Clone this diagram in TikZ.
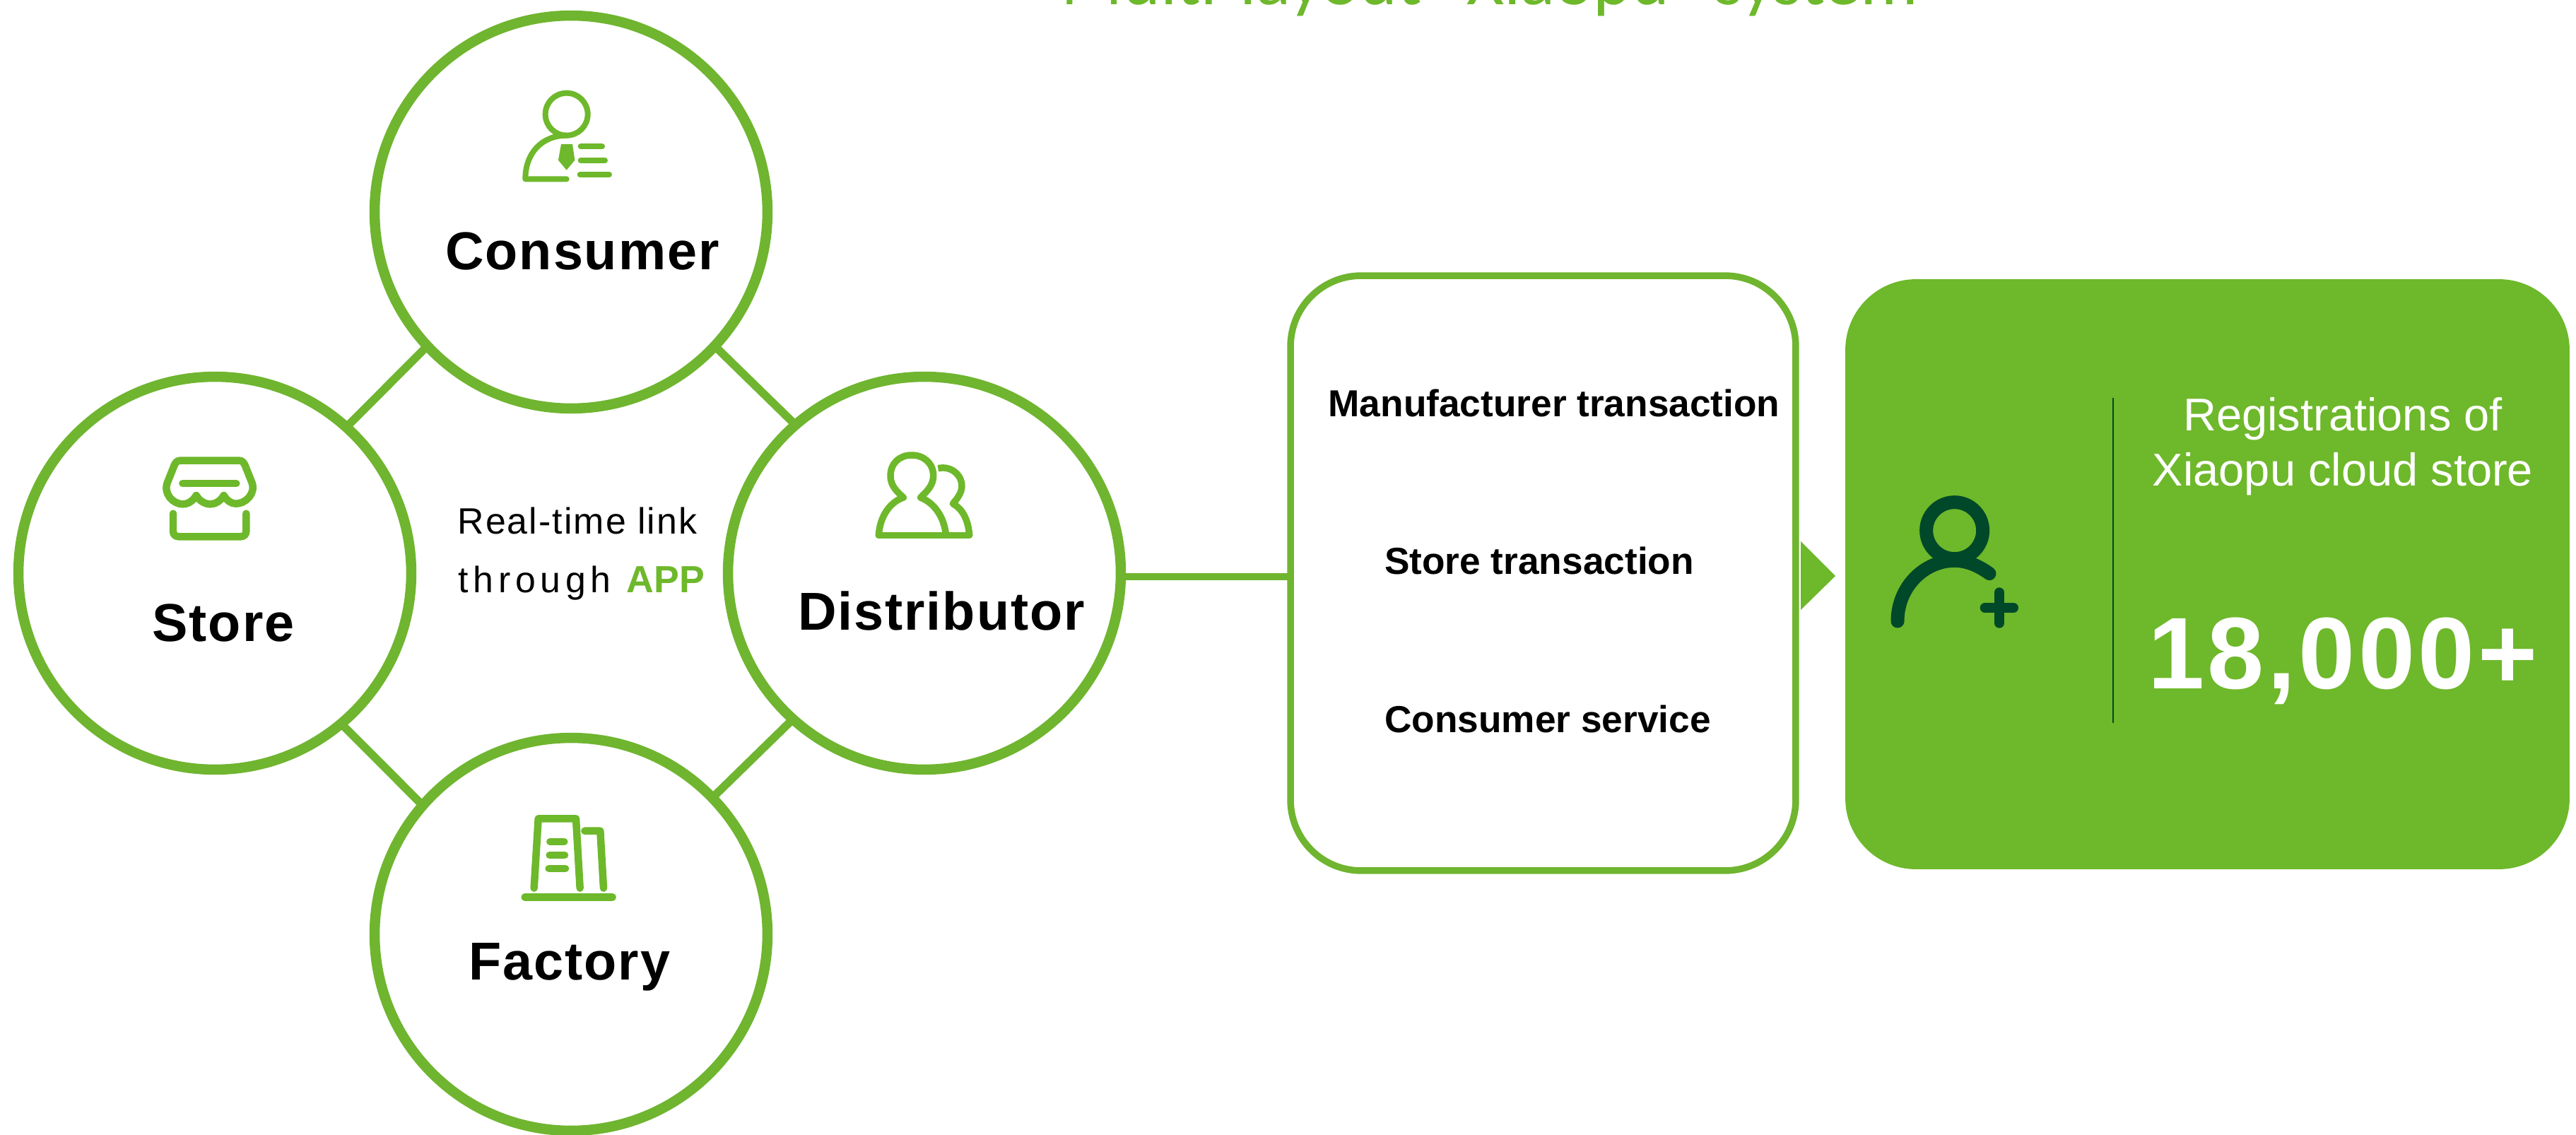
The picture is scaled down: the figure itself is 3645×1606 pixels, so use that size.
\documentclass[tikz,border=0pt]{standalone}
\usepackage{fontspec}
\setmainfont{Liberation Sans}
\newfontfamily\titlefont{Carlito}
\newfontfamily\spacedfont[LetterSpace=4]{Liberation Sans}
\newfontfamily\rolefont[LetterSpace=2.6]{Liberation Sans}
\newfontfamily\widefont[LetterSpace=13]{Liberation Sans}
\newfontfamily\countfont[LetterSpace=3]{Liberation Sans}
\definecolor{brand}{HTML}{6EB82B}
\definecolor{ringgreen}{HTML}{6FB52F}
\definecolor{deepgreen}{HTML}{00482A}
\tikzset{
  ring/.style={circle,draw=ringgreen,fill=white,line width=0.29cm,minimum size=11.12cm,inner sep=0pt,outer sep=0pt},
  link/.style={draw=ringgreen,line width=0.23cm},
  rolelabel/.style={font=\fontsize{43}{50}\selectfont\rolefont\bfseries,text=black,inner sep=0pt},
  tasklabel/.style={font=\fontsize{30.3}{36}\selectfont\bfseries,text=black,inner sep=0pt},
  whitelabel/.style={font=\fontsize{37}{44}\selectfont,text=white,inner sep=0pt},
  iconscope/.style={x=0.00667cm,y=-0.00667cm,line cap=round,line join=round,draw=brand},
}
\begin{document}
\begin{tikzpicture}[x=0.02cm,y=-0.02cm]
\useasboundingbox (0,0) rectangle (3645,1606);
\fill[white] (0,0) rectangle (3645,1606);
% title
\node[anchor=base,inner sep=0pt,text=brand,font=\fontsize{58.2}{62}\selectfont\titlefont] (title) at (2108,6) {Multi-layout "Xiaopu" system};
% rings
\node[ring] (consumer) at (808,300) {};
\node[ring] (store) at (304,811) {};
\node[ring] (distributor) at (1308,811) {};
\node[ring] (factory) at (808,1322) {};
\draw[link] (consumer.223) -- (store.48);
\draw[link] (consumer.317) -- (distributor.131);
\draw[link] (factory.139) -- (store.310);
\draw[link] (factory.44) -- (distributor.228);
% labels
\node[rolelabel] (consumerlabel) at (824,355) {Consumer};
\node[rolelabel] (storelabel) at (316,881) {Store};
\node[rolelabel] (distlabel) at (1332,864) {Distributor};
\node[rolelabel] (factorylabel) at (806,1368) {Factory};
\node[inner sep=0pt,font=\fontsize{29.5}{36}\selectfont\spacedfont,text=black] (linkone) at (817,737) {Real-time link};
\node[anchor=base west,inner sep=0pt,font=\fontsize{29.5}{36}\selectfont,text=black] (linktwo) at (648,838) {{\widefont through} \hspace{0.16cm}{\fontsize{30.5}{36}\selectfont\bfseries\textcolor{brand}{APP}}};
% process box
\node[draw=ringgreen,fill=white,line width=0.19cm,rounded corners=2cm,minimum width=14.3cm,minimum height=16.84cm,inner sep=0pt,outer sep=0pt] (process) at (2183.5,811) {};
\draw[draw=ringgreen,line width=0.19cm] ([yshift=-0.1cm]distributor.east) -- ([yshift=-0.1cm]process.west);
\node[tasklabel] (taskone) at (2199,570) {Manufacturer transaction};
\node[tasklabel] (tasktwo) at (2178,793) {Store transaction};
\node[tasklabel] (taskthree) at (2190,1017) {Consumer service};
% arrow
\fill[brand] (2548,766) -- (2597,815) -- (2548,863) -- cycle;
% green card
\node[fill=brand,rounded corners=2cm,minimum width=20.5cm,minimum height=16.7cm,inner sep=0pt,outer sep=0pt] (card) at (3123.5,812.5) {};
\draw[draw=deepgreen,line width=0.05cm] (2990,563) -- (2990,1023);
\node[whitelabel] (regone) at (3315,593) {Registrations of};
\node[whitelabel] (regtwo) at (3315,671) {Xiaopu cloud store};
\node[anchor=base,inner sep=0pt,text=white,font=\fontsize{82}{90}\selectfont\countfont\bfseries] (count) at (3315,974) {18,000+};
% consumer icon
\begin{scope}[shift={(700,100)},iconscope,line width=0.16cm]
\draw (305,185) circle (90);
\draw (305,275) .. controls (200,275) and (130,350) .. (130,460) -- (305,460);
\fill[brand] (282,312) -- (330,312) -- (340,380) -- (305,422) -- (270,380) -- cycle;
\draw (365,322) -- (456,322);
\draw (365,381) -- (468,381);
\draw (362,441) -- (486,441);
\end{scope}
% store icon
\begin{scope}[shift={(200,620)},iconscope,line width=0.21cm]
\draw (165,95) -- (415,95) .. controls (430,95) and (435,105) .. (440,115) -- (468,185)
 .. controls (490,235) and (440,280) .. (400,278) .. controls (380,278) and (360,262) .. (350,243)
 .. controls (335,270) and (310,280) .. (292,280) .. controls (270,280) and (245,265) .. (233,243)
 .. controls (220,265) and (200,280) .. (175,280) .. controls (135,280) and (90,235) .. (112,185)
 -- (140,115) .. controls (145,105) and (150,95) .. (165,95) -- cycle;
\draw (175,192) -- (403,192);
\draw (135,320) -- (135,395) .. controls (135,410) and (145,418) .. (160,418) -- (420,418) .. controls (435,418) and (445,410) .. (445,395) -- (445,320);
\end{scope}
% distributor icon
\begin{scope}[shift={(1210,620)},iconscope,line width=0.19cm]
\draw (100,412) -- (485,412);
\draw (100,412) .. controls (105,330) and (150,270) .. (205,252)
 .. controls (175,225) and (150,200) .. (150,160) .. controls (150,105) and (190,72) .. (240,72)
 .. controls (290,72) and (332,105) .. (332,160) .. controls (332,200) and (305,225) .. (278,252)
 .. controls (335,275) and (375,330) .. (385,405);
\draw[line cap=butt] (352,128) .. controls (410,115) and (455,160) .. (453,205) .. controls (452,235) and (430,260) .. (415,278) .. controls (455,300) and (480,345) .. (485,412);
\end{scope}
% factory icon
\begin{scope}[shift={(710,1130)},iconscope,line width=0.21cm]
\draw (137,380) -- (155,85) -- (315,85) -- (332,380);
\draw (352,137) -- (418,137) -- (432,380);
\draw (205,183) -- (265,183);
\draw (203,240) -- (267,240);
\draw (200,297) -- (270,297);
\draw (98,418) -- (470,418);
\end{scope}
% registration icon
\begin{scope}[shift={(2520,680)},iconscope,draw=deepgreen]
\draw[line width=0.38cm] (737,212) circle (120);
\draw[line width=0.38cm] (495,597) .. controls (495,450) and (610,340) .. (737,340) .. controls (790,340) and (840,362) .. (885,395);
\draw[line width=0.28cm] (927,475) -- (927,605);
\draw[line width=0.28cm] (866,540) -- (987,540);
\end{scope}
\end{tikzpicture}
\end{document}
